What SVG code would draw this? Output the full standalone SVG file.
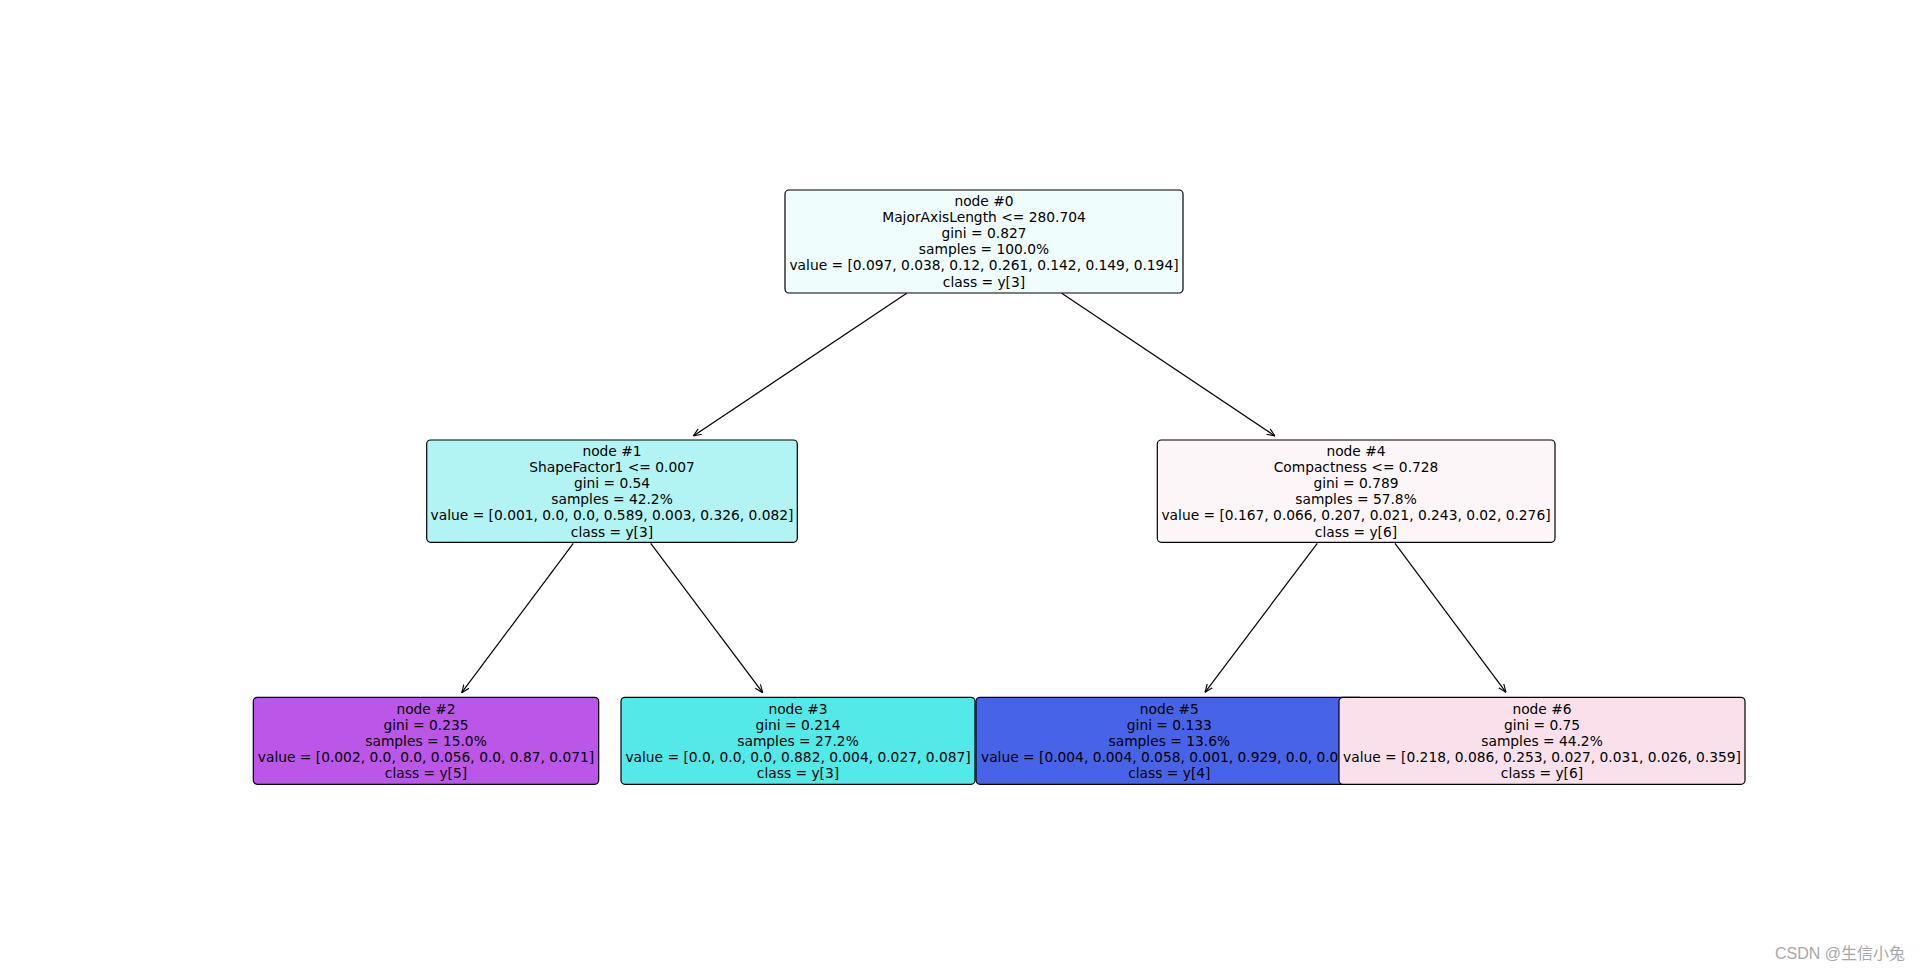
<svg xmlns="http://www.w3.org/2000/svg" width="1920" height="973" viewBox="0 0 1920 973">
<defs>
<style>
.box{stroke:#000;stroke-width:1.2}
.t{font-family:"DejaVu Sans",sans-serif;font-size:13.8px;fill:#000;text-anchor:middle}
.e{stroke:#000;stroke-width:1.2;fill:none;marker-end:url(#ah)}
</style>
<marker id="ah" viewBox="0 0 10 10" refX="10" refY="5" markerWidth="8" markerHeight="8" markerUnits="userSpaceOnUse" orient="auto">
<path d="M0,1 L10,5 L0,9" fill="none" stroke="#000" stroke-width="1.4"/>
</marker>
</defs>
<rect width="1920" height="973" fill="#fff"/>
<g id="connectors">
<line class="e" x1="906.7" y1="293.3" x2="693.3" y2="436"/>
<line class="e" x1="1061.7" y1="293.3" x2="1275" y2="436"/>
<line class="e" x1="573.3" y1="543.3" x2="461.7" y2="692.7"/>
<line class="e" x1="650.7" y1="543.3" x2="762.7" y2="692.7"/>
<line class="e" x1="1317.3" y1="543.3" x2="1205" y2="692.3"/>
<line class="e" x1="1395" y1="543.3" x2="1506" y2="692.3"/>
</g>
<g id="node0">
<rect class="box" x="785" y="190" width="398" height="103" rx="4" fill="#effdfd"/>
<text class="t" x="984" y="206">node #0</text>
<text class="t" x="984" y="222.1">MajorAxisLength &lt;= 280.704</text>
<text class="t" x="984" y="238.2">gini = 0.827</text>
<text class="t" x="984" y="254.3">samples = 100.0%</text>
<text class="t" x="984" y="270.4">value = [0.097, 0.038, 0.12, 0.261, 0.142, 0.149, 0.194]</text>
<text class="t" x="984" y="286.5">class = y[3]</text>
</g>
<g id="node1">
<rect class="box" x="426.7" y="440" width="370.6" height="102.3" rx="4" fill="#b2f4f4"/>
<text class="t" x="612" y="456">node #1</text>
<text class="t" x="612" y="472.1">ShapeFactor1 &lt;= 0.007</text>
<text class="t" x="612" y="488.2">gini = 0.54</text>
<text class="t" x="612" y="504.3">samples = 42.2%</text>
<text class="t" x="612" y="520.4">value = [0.001, 0.0, 0.0, 0.589, 0.003, 0.326, 0.082]</text>
<text class="t" x="612" y="536.5">class = y[3]</text>
</g>
<g id="node4">
<rect class="box" x="1157.3" y="440" width="397.7" height="102.3" rx="4" fill="#fdf6f8"/>
<text class="t" x="1356" y="456">node #4</text>
<text class="t" x="1356" y="472.1">Compactness &lt;= 0.728</text>
<text class="t" x="1356" y="488.2">gini = 0.789</text>
<text class="t" x="1356" y="504.3">samples = 57.8%</text>
<text class="t" x="1356" y="520.4">value = [0.167, 0.066, 0.207, 0.021, 0.243, 0.02, 0.276]</text>
<text class="t" x="1356" y="536.5">class = y[6]</text>
</g>
<g id="node2">
<rect class="box" x="253.3" y="697.3" width="345.4" height="87" rx="4" fill="#bc56e8"/>
<text class="t" x="426" y="713.5">node #2</text>
<text class="t" x="426" y="729.6">gini = 0.235</text>
<text class="t" x="426" y="745.7">samples = 15.0%</text>
<text class="t" x="426" y="761.8">value = [0.002, 0.0, 0.0, 0.056, 0.0, 0.87, 0.071]</text>
<text class="t" x="426" y="777.9">class = y[5]</text>
</g>
<g id="node3">
<rect class="box" x="621" y="697.3" width="354" height="87" rx="4" fill="#53e9e9"/>
<text class="t" x="798" y="713.5">node #3</text>
<text class="t" x="798" y="729.6">gini = 0.214</text>
<text class="t" x="798" y="745.7">samples = 27.2%</text>
<text class="t" x="798" y="761.8">value = [0.0, 0.0, 0.0, 0.882, 0.004, 0.027, 0.087]</text>
<text class="t" x="798" y="777.9">class = y[3]</text>
</g>
<g id="node5">
<rect class="box" x="976" y="697.3" width="387" height="87" rx="4" fill="#4764e8"/>
<text class="t" x="1169.3" y="713.5">node #5</text>
<text class="t" x="1169.3" y="729.6">gini = 0.133</text>
<text class="t" x="1169.3" y="745.7">samples = 13.6%</text>
<text class="t" x="981" y="761.8" style="text-anchor:start">value = [0.004, 0.004, 0.058, 0.001, 0.929, 0.0, 0.0</text>
<text class="t" x="1169.3" y="777.9">class = y[4]</text>
</g>
<g id="node6">
<rect class="box" x="1339" y="697.3" width="406" height="87" rx="4" fill="#f9e0eb"/>
<text class="t" x="1542" y="713.5">node #6</text>
<text class="t" x="1542" y="729.6">gini = 0.75</text>
<text class="t" x="1542" y="745.7">samples = 44.2%</text>
<text class="t" x="1542" y="761.8">value = [0.218, 0.086, 0.253, 0.027, 0.031, 0.026, 0.359]</text>
<text class="t" x="1542" y="777.9">class = y[6]</text>
</g>
<text x="1905" y="959" style="font-family:'Liberation Sans','Noto Sans CJK SC',sans-serif;font-size:16px;fill:#a8a8a8;text-anchor:end">CSDN @生信小兔</text>
</svg>
